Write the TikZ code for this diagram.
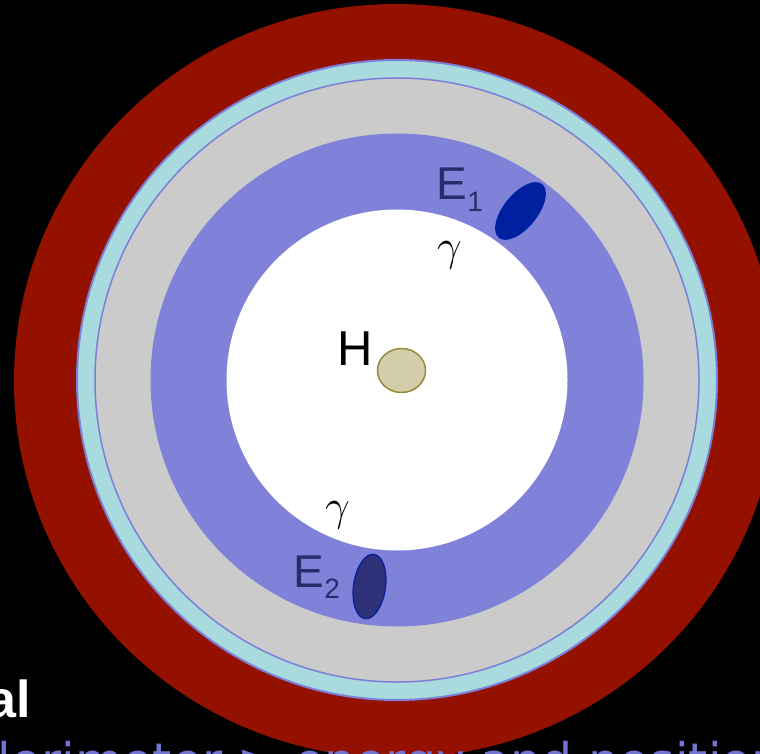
\documentclass[tikz,border=0pt]{standalone}
\usepackage{fix-cm}
\usepackage{fontspec}
\setmainfont{Liberation Sans}
\newfontfamily\slidefont{DejaVu Sans}
\usetikzlibrary{shapes.geometric}

\definecolor{hcalred}{RGB}{148,17,0}
\definecolor{coilcyan}{RGB}{168,218,222}
\definecolor{ringline}{RGB}{123,127,216}
\definecolor{ecalgray}{RGB}{203,203,203}
\definecolor{ecalblue}{RGB}{127,130,216}
\definecolor{showerblue}{RGB}{0,32,160}
\definecolor{showerdark}{RGB}{46,48,120}
\definecolor{hadronfill}{RGB}{211,205,170}
\definecolor{hadronline}{RGB}{153,138,59}
\definecolor{labelnavy}{RGB}{43,43,107}
\definecolor{slideblue}{RGB}{115,115,210}

\newcommand{\subidx}[2]{\raisebox{-#1}{\fontsize{28}{28}\selectfont #2}}

\tikzset{
  lab/.style={inner sep=0pt, anchor=base west, font=\fontsize{46}{46}\selectfont},
  blob/.style={ellipse, inner sep=0pt},
  photon/.style={inner sep=0pt, font=\fontsize{44}{44}\selectfont},
}

\begin{document}
\begin{tikzpicture}[x=1pt,y=-1pt]
  \useasboundingbox (0,0) rectangle (760,754);
  \clip (0,0) rectangle (760,754);
  \fill[black] (0,0) rectangle (760,754);

  % Rings
  \fill[hcalred] (396,381) ellipse [x radius=382, y radius=377];
  \draw[fill=coilcyan, draw=ringline, line width=2pt] (397,380) circle [radius=320];
  \draw[fill=ecalgray, draw=ringline, line width=1.5pt] (397,380) circle [radius=302];
  \fill[ecalblue] (397,380) circle [radius=246.5];
  \fill[white] (397,380) circle [radius=170.5];

  % Showers and hadron
  \node[blob, fill=showerblue, minimum width=69pt, minimum height=34pt, rotate=51] (e1) at (520.5,211) {};
  \node[blob, fill=showerdark, draw=showerblue, line width=1.2pt, minimum width=65pt, minimum height=32pt, rotate=82] (e2) at (369.5,586.5) {};
  \node[blob, fill=hadronfill, draw=hadronline, line width=1.5pt, minimum width=48pt, minimum height=44pt] (h) at (401.5,370.5) {};

  % Labels
  \node[lab, text=labelnavy] (e1lab) at (436.5,200) {E\subidx{12pt}{1}};
  \node[lab, text=labelnavy] (e2lab) at (293.5,587) {E\subidx{11pt}{2}};
  \node[lab, font=\fontsize{49}{49}\selectfont] (hlab) at (337,365) {H};
  \node[photon] (g1) at (449.5,255) {$\gamma$};
  \node[photon] (g2) at (337.5,515) {$\gamma$};

  % Slide text
  \node[inner sep=0pt, anchor=base east, text=white, font=\fontsize{52}{52}\selectfont\bfseries] (title) at (31.5,717) {al};
  \node[inner sep=0pt, anchor=base west, text=slideblue, font=\slidefont\fontsize{49}{49}\selectfont] (body) at (-66.8,778) {Calorimeter > energy and position};
\end{tikzpicture}
\end{document}
